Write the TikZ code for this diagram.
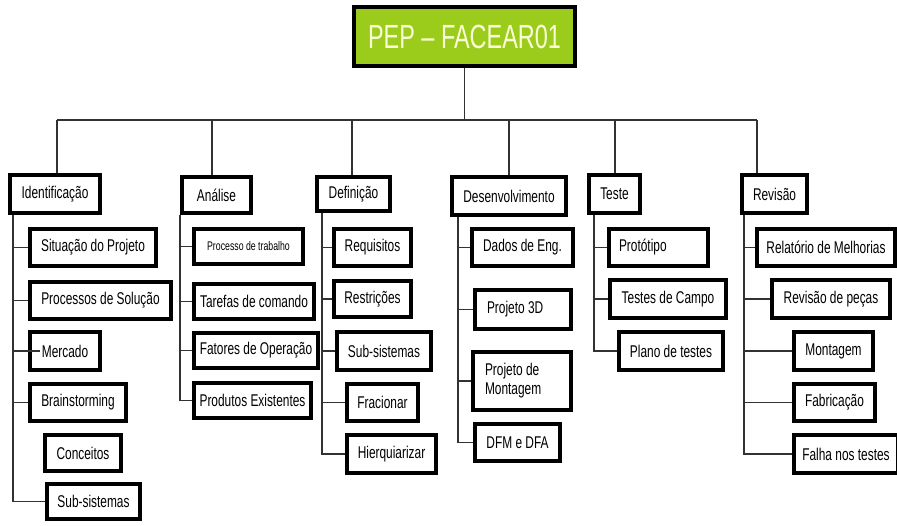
\documentclass[tikz,border=0pt]{standalone}
\usepackage{fontspec}
\setmainfont{Liberation Sans}[FakeStretch=0.7]
\usetikzlibrary{backgrounds}
\definecolor{rootgreen}{RGB}{155,204,28}
\definecolor{roottext}{RGB}{250,255,214}
\definecolor{linegray}{RGB}{50,50,50}
\tikzset{
  box/.style={draw=black,line width=4pt,fill=white,inner sep=0pt,text=black,
    font=\fontsize{17}{19}\selectfont},
  conn/.style={draw=linegray,line width=1.2pt},
}
% #1 options, #2 name, #3 x1, #4 y1, #5 x2, #6 y2, #7 text
\newcommand\bx[7][]{\node[box,minimum width={(#5)-(#3)-4},minimum height={(#6)-(#4)-4},#1] (#2) at ({((#3)+(#5))/2},{((#4)+(#6))/2}) {#7};}
% left aligned: #1 name, #2 x1, #3 y1, #4 x2, #5 y2, #6 text start x, #7 text
\newlength\lbxw
\newcommand\lbx[7]{\pgfmathsetlength\lbxw{(#4)-(#2)-4-2*((#6)-(#2)-2)}%
  \node[box,minimum width={(#4)-(#2)-4},minimum height={(#5)-(#3)-4}] (#1) at ({((#2)+(#4))/2},{((#3)+(#5))/2})
  {\makebox[\lbxw][l]{\begin{tabular}{@{}l@{}}#7\end{tabular}}};}
\begin{document}
\begin{tikzpicture}[x=1pt,y=-1pt]
\useasboundingbox (0,0) rectangle (897,525);
% root
\bx[fill=rootgreen,text=roottext,font=\fontsize{33.5}{36}\selectfont]{root}{352}{5}{577}{68}{PEP – FACEAR01}
% level 1
\bx{ident}{8}{173}{102}{215}{Identificação}
\bx{anal}{180}{175}{253}{215}{Análise}
\bx{defi}{315}{175}{392}{213}{Definição}
\bx{desen}{450}{175}{568}{217}{Desenvolvimento}
\bx{teste}{587}{173}{642}{215}{Teste}
\bx{revis}{740}{173}{809}{215}{Revisão}
% Identificacao
\bx{sit}{28}{227}{158}{268}{Situação do Projeto}
\bx{proc}{28}{280}{173}{321}{Processos de Solução}
\bx{merc}{28}{330}{102}{372}{Mercado}
\bx{brain}{28}{382}{128}{423}{Brainstorming}
\bx{conc}{43}{433}{123}{473}{Conceitos}
\bx{subA}{45}{482}{142}{521}{Sub-sistemas}
% Analise
\bx[font=\fontsize{12.5}{14}\selectfont]{ptrab}{192}{227}{305}{266}{Processo de trabalho}
\bx{tcom}{192}{282}{316}{321}{Tarefas de comando}
\bx{fop}{192}{331}{320}{370}{Fatores de Operação}
\bx{pex}{192}{381}{313}{420}{Produtos Existentes}
% Definicao
\bx{req}{332}{227}{413}{268}{Requisitos}
\bx{rest}{332}{279}{413}{319}{Restrições}
\bx{subB}{335}{330}{433}{372}{Sub-sistemas}
\bx{frac}{345}{382}{420}{423}{Fracionar}
\bx{hier}{345}{433}{438}{475}{Hierquiarizar}
% Desenvolvimento
\bx{dados}{470}{227}{575}{268}{Dados de Eng.}
\lbx{p3d}{473}{288}{573}{331}{487}{Projeto 3D}
\lbx{pmont}{471}{350}{573}{412}{485}{Projeto de\\Montagem}
\bx{dfm}{473}{422}{562}{463}{DFM e DFA}
% Teste
\lbx{prot}{607}{227}{710}{268}{619}{Protótipo}
\bx{tcamp}{608}{278}{728}{320}{Testes de Campo}
\bx{plano}{617}{330}{725}{372}{Plano de testes}
% Revisao
\bx{rel}{755}{227}{897}{268}{Relatório de Melhorias}
\bx{revp}{770}{278}{892}{320}{Revisão de peças}
\bx{mont}{792}{330}{875}{372}{Montagem}
\bx{fabr}{792}{382}{877}{423}{Fabricação}
\bx{falha}{792}{433}{900}{475}{Falha nos testes}
% connectors
\coordinate (bL) at (57,120);
\coordinate (bR) at (757,120);
\coordinate (dA) at (212,120);
\coordinate (dD) at (352,120);
\coordinate (dE) at (509,120);
\coordinate (dT) at (615,120);
\begin{scope}[on background layer]
\fill[white] (0,0) rectangle (897,525);
\path[conn] (bL) -- (bR);
\path[conn] (root.south) -- (root.south |- bL);
\path[conn] (bL) -- (bL |- ident.north);
\path[conn] (dA) -- (dA |- anal.north);
\path[conn] (dD) -- (dD |- defi.north);
\path[conn] (dE) -- (dE |- desen.north);
\path[conn] (dT) -- (dT |- teste.north);
\path[conn] (bR) -- (bR |- revis.north);
\foreach \c in {sit,proc,brain,subA}
  \path[conn] ([xshift=5pt]ident.south west) |- (\c.west);
\foreach \c in {ptrab,tcom,fop,pex}
  \path[conn] (anal.south west) |- (\c.west);
\foreach \c in {req,rest,subB,frac,hier}
  \path[conn] ([xshift=7pt]defi.south west) |- (\c.west);
\foreach \c in {dados,p3d,pmont,dfm}
  \path[conn] ([xshift=8pt]desen.south west) |- (\c.west);
\foreach \c in {prot,tcamp,plano}
  \path[conn] ([xshift=7pt]teste.south west) |- (\c.west);
\foreach \c in {rel,revp,mont,fabr,falha}
  \path[conn] ([xshift=4pt]revis.south west) |- (\c.west);
\end{scope}
\path[conn] ([xshift=5pt]ident.south west) |- ([xshift=12pt]merc.west);
\end{tikzpicture}
\end{document}
